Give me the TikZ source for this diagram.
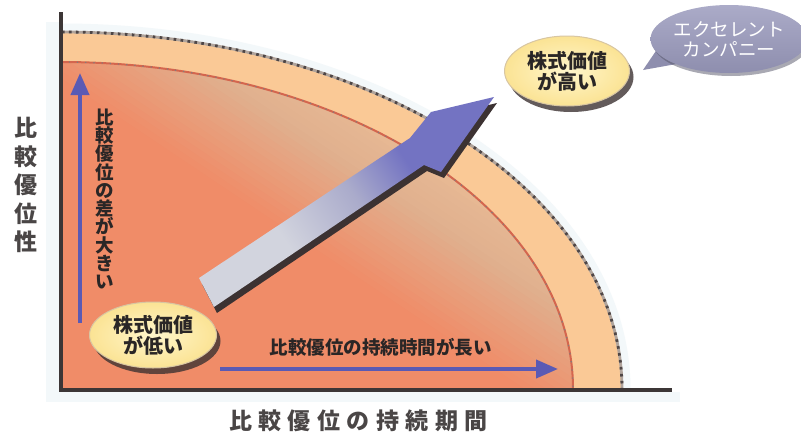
\documentclass[tikz,border=0pt]{standalone}
\usepackage{fontspec}
\newfontfamily\jp{Noto Sans CJK JP}
\usetikzlibrary{arrows.meta,shapes.geometric,shadows}
\definecolor{salm}{HTML}{F08C68}
\definecolor{tanc}{HTML}{E0B08E}
\definecolor{tanl}{HTML}{EDBF98}
\definecolor{peach}{HTML}{FAC996}
\definecolor{axisc}{HTML}{3C3636}
\definecolor{bluec}{HTML}{5A5AB4}
\definecolor{labelc}{HTML}{4A4646}
\definecolor{txtc}{HTML}{2A2626}
\definecolor{bubY}{HTML}{FBE394}
\definecolor{bubYc}{HTML}{FFF6CC}
\definecolor{bubrim}{HTML}{D8C6A2}
\definecolor{excT}{HTML}{ABABC8}
\definecolor{excB}{HTML}{8E8EAE}
\definecolor{arrA}{HTML}{D2D4DE}
\definecolor{arrB}{HTML}{AAABCB}
\definecolor{arrC}{HTML}{7373C2}
\definecolor{shadc}{HTML}{3C3232}
\definecolor{haloc}{HTML}{F3F8FA}
\definecolor{outl}{HTML}{B0A49C}
\definecolor{outd}{HTML}{4E4646}
\definecolor{innl}{HTML}{D4664E}
\pgfdeclarehorizontalshading{arrowsh}{100bp}{color(0bp)=(arrA); color(36bp)=(arrA); color(52bp)=(arrB); color(64bp)=(arrC); color(100bp)=(arrC)}
\newcommand\jpf[2]{\jp\fontsize{#1}{#2}\selectfont}
\newcommand\gp{\hspace{6.5pt}}
\begin{document}
\begin{tikzpicture}[x=1pt,y=-1pt,
  axisline/.style={line width=3.5pt, draw=axisc, line join=miter},
  bluearr/.style={line width=4pt, draw=bluec, -{Triangle[length=22pt,width=18pt]}},
  bub/.style={ellipse, inner sep=0pt, align=center},
  ybub/.style={bub, shade, inner color=bubYc, outer color=bubY, draw=bubrim, line width=1pt,
     drop shadow={shadow xshift=4pt, shadow yshift=-6pt, fill=shadc, opacity=0.8},
     font={\jpf{20}{21}\bfseries}, text=txtc},
  axlabel/.style={font={\jpf{23}{28.5}\bfseries}, text=labelc, align=center},
  intext/.style={font={\jpf{18.5}{18.3}\bfseries}, text=txtc, align=center}]
\useasboundingbox (0,0) rectangle (801,434);
\fill[white] (0,0) rectangle (801,434);
% faint halos
\fill[haloc] (46,22) rectangle (59,402);
\fill[haloc] (46,392) rectangle (680,402);
% chart area
\begin{scope}
  \clip (61,0) rectangle (801,389);
  \draw[line width=7pt, haloc] (61,389) ellipse [x radius=566, y radius=362];
  \fill[peach] (61,389) ellipse [x radius=561, y radius=357];
  \begin{scope}
    \clip (61,389) ellipse [x radius=512, y radius=327];
    \fill[salm] (0,0) rectangle (700,400);
    \foreach \k in {0,...,36}{
      \pgfmathsetmacro\offA{-60+6*\k}
      \pgfmathsetmacro\offB{\offA+6.8}
      \pgfmathsetmacro\mixP{max(0,min(100,(\offA+40)/0.9))}
      \pgfmathsetmacro\mixQ{max(0,min(100,(\offA-50)/0.8))}
      \fill[tanl!\mixQ!tanc!\mixP!salm]
        ({330+\offA*0.557-700*0.831},{215-\offA*0.831-700*0.557}) --
        ({330+\offA*0.557+700*0.831},{215-\offA*0.831+700*0.557}) --
        ({330+\offB*0.557+700*0.831},{215-\offB*0.831+700*0.557}) --
        ({330+\offB*0.557-700*0.831},{215-\offB*0.831-700*0.557}) -- cycle;
    }
  \end{scope}
  \draw[line width=2pt, innl] (61,389) ellipse [x radius=512, y radius=327];
  \draw[line width=1.2pt, outd!70, dash pattern=on 1.2pt off 7pt] (61,389) ellipse [x radius=512, y radius=327];
  \draw[line width=2.8pt, outl] (61,389) ellipse [x radius=561, y radius=357];
  \draw[line width=2.8pt, outd, dash pattern=on 2.6pt off 4.4pt] (61,389) ellipse [x radius=561, y radius=357];
\end{scope}
% axes
\coordinate (ytop) at (61,12);
\coordinate (orig) at (61,390);
\coordinate (xend) at (672,390);
\draw[axisline] (ytop) -- (orig) -- (xend);
% blue arrows
\coordinate (vs) at (80,323);
\coordinate (ve) at (80,73);
\draw[bluearr] (vs) -- (ve);
\coordinate (hs) at (220,369);
\coordinate (he) at (558,369);
\draw[bluearr] (hs) -- (he);
\node[intext] (vtext) at (105,199) {比\\較\\優\\位\\の\\差\\が\\大\\き\\い};
\node[intext] (htext) at (380.5,347) {比較優位の持続時間が長い};
% big arrow
\begin{scope}[shift={(3,6)}]
  \fill[shadc] (199,278) -- (214,307) -- (424,165) -- (441,172) -- (494,97) -- (431,112) -- (410,138) -- cycle;
\end{scope}
\shade[shading=arrowsh, shading angle=34] (199,278) -- (214,307) -- (424,165) -- (441,172) -- (494,97) -- (431,112) -- (410,138) -- cycle;
% bubbles
\node[ybub, minimum width=127pt, minimum height=66pt] (low) at (153,335) {株式価値\\が低い};
\node[ybub, minimum width=125pt, minimum height=70pt] (high) at (567,71) {株式価値\\が高い};
\coordinate (exctip) at (643,70);
\fill[excB] (660,45) -- (exctip) -- (682,63) -- cycle;
\node[bub, top color=excT, bottom color=excB, minimum width=144pt, minimum height=68pt,
  drop shadow={shadow xshift=2pt, shadow yshift=-3pt, fill=excB!60!black, opacity=0.5},
  font={\jpf{18.5}{20}}, text=white] (exc) at (729,39) {エクセレント\\カンパニー};
% axis labels
\node[axlabel] (ylabel) at (26,185) {比\\較\\優\\位\\性};
\node[axlabel] (xlabel) at (358.5,421) {比\gp 較\gp 優\gp 位\gp の\gp 持\gp 続\gp 期\gp 間};
\end{tikzpicture}
\end{document}
